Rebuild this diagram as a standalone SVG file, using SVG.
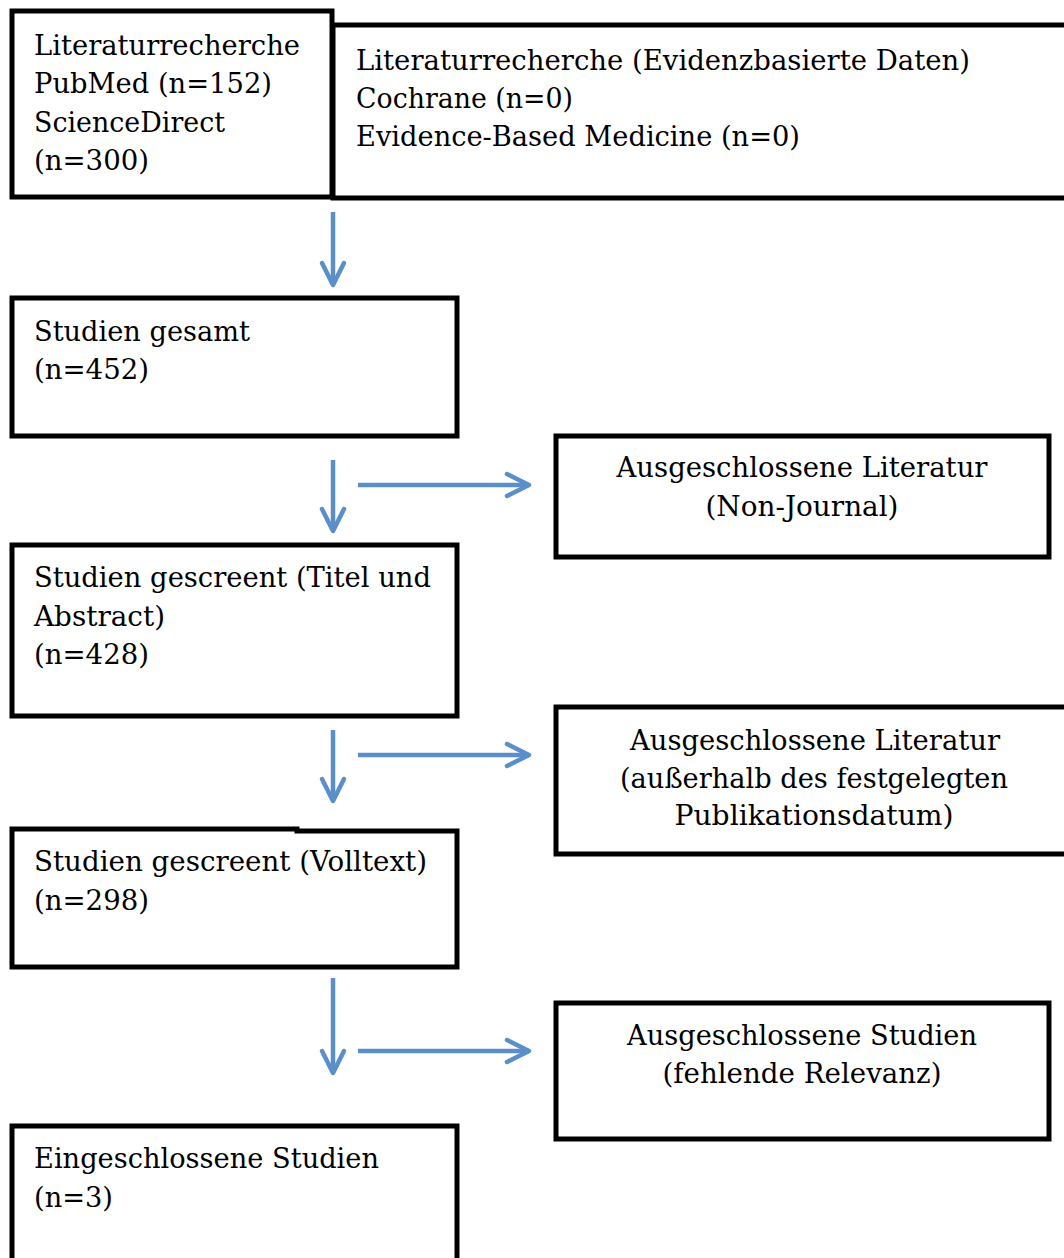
<svg xmlns="http://www.w3.org/2000/svg" width="1064" height="1258" viewBox="0 0 1064 1258">
<style>
.box{fill:#fff;stroke:#000;stroke-width:5}
.t{font-family:"DejaVu Serif","Liberation Serif",serif;font-size:27px;fill:#000}
.c{text-anchor:middle}
.arr{stroke:#5b8fc9;stroke-width:4.5;fill:none;marker-end:url(#ah)}
</style>
<defs>
<marker id="ah" markerUnits="userSpaceOnUse" markerWidth="34" markerHeight="34" refX="26" refY="17" orient="auto">
<polyline points="4,6 26,17 4,28" fill="none" stroke="#5b8fc9" stroke-width="4.5" stroke-linecap="round" stroke-linejoin="round"/>
</marker>
</defs>
<rect width="1064" height="1258" fill="#fff"/>
<g id="n2">
<rect class="box" x="333" y="25" width="740" height="173"/>
<text class="t" x="356" y="70" textLength="614" lengthAdjust="spacingAndGlyphs">Literaturrecherche (Evidenzbasierte Daten)</text>
<text class="t" x="356" y="108" textLength="217" lengthAdjust="spacingAndGlyphs">Cochrane (n=0)</text>
<text class="t" x="356" y="146" textLength="444" lengthAdjust="spacingAndGlyphs">Evidence-Based Medicine (n=0)</text>
</g>
<g id="n1">
<rect class="box" x="12" y="11" width="320" height="186"/>
<text class="t" x="34" y="55" textLength="266" lengthAdjust="spacingAndGlyphs">Literaturrecherche</text>
<text class="t" x="34" y="93" textLength="238" lengthAdjust="spacingAndGlyphs">PubMed (n=152)</text>
<text class="t" x="34" y="132" textLength="191" lengthAdjust="spacingAndGlyphs">ScienceDirect</text>
<text class="t" x="34" y="170" textLength="115" lengthAdjust="spacingAndGlyphs">(n=300)</text>
</g>
<g id="n3">
<rect class="box" x="12" y="298" width="445" height="138"/>
<text class="t" x="34" y="341" textLength="216" lengthAdjust="spacingAndGlyphs">Studien gesamt</text>
<text class="t" x="34" y="379" textLength="115" lengthAdjust="spacingAndGlyphs">(n=452)</text>
</g>
<g id="n4">
<rect class="box" x="556" y="436" width="493" height="121"/>
<text class="t c" x="802" y="477" textLength="371" lengthAdjust="spacingAndGlyphs">Ausgeschlossene Literatur</text>
<text class="t c" x="802" y="516" textLength="193" lengthAdjust="spacingAndGlyphs">(Non-Journal)</text>
</g>
<g id="n5">
<rect class="box" x="12" y="545" width="445" height="171"/>
<text class="t" x="34" y="587" textLength="397" lengthAdjust="spacingAndGlyphs">Studien gescreent (Titel und</text>
<text class="t" x="34" y="626" textLength="131" lengthAdjust="spacingAndGlyphs">Abstract)</text>
<text class="t" x="34" y="664" textLength="115" lengthAdjust="spacingAndGlyphs">(n=428)</text>
</g>
<g id="n6">
<rect class="box" x="556" y="707" width="520" height="147"/>
<text class="t c" x="815" y="750" textLength="370" lengthAdjust="spacingAndGlyphs">Ausgeschlossene Literatur</text>
<text class="t c" x="814" y="788" textLength="388" lengthAdjust="spacingAndGlyphs">(außerhalb des festgelegten</text>
<text class="t c" x="814" y="825" textLength="279" lengthAdjust="spacingAndGlyphs">Publikationsdatum)</text>
</g>
<g id="n7">
<path class="box" d="M12,829 H297 V831 H457 V967 H12 Z"/>
<text class="t" x="34" y="871" textLength="393" lengthAdjust="spacingAndGlyphs">Studien gescreent (Volltext)</text>
<text class="t" x="34" y="910" textLength="115" lengthAdjust="spacingAndGlyphs">(n=298)</text>
</g>
<g id="n8">
<rect class="box" x="556" y="1003" width="493" height="136"/>
<text class="t c" x="802" y="1045" textLength="350" lengthAdjust="spacingAndGlyphs">Ausgeschlossene Studien</text>
<text class="t c" x="802" y="1083" textLength="279" lengthAdjust="spacingAndGlyphs">(fehlende Relevanz)</text>
</g>
<g id="n9">
<rect class="box" x="12" y="1126" width="445" height="150"/>
<text class="t" x="34" y="1168" textLength="345" lengthAdjust="spacingAndGlyphs">Eingeschlossene Studien</text>
<text class="t" x="34" y="1207" textLength="79" lengthAdjust="spacingAndGlyphs">(n=3)</text>
</g>
<g id="connectors">
<line class="arr" x1="333" y1="212" x2="333" y2="285"/>
<line class="arr" x1="333" y1="460" x2="333" y2="531"/>
<line class="arr" x1="358" y1="485" x2="529" y2="485"/>
<line class="arr" x1="333" y1="730" x2="333" y2="801"/>
<line class="arr" x1="358" y1="755" x2="529" y2="755"/>
<line class="arr" x1="333" y1="978" x2="333" y2="1073"/>
<line class="arr" x1="358" y1="1051" x2="529" y2="1051"/>
</g>
</svg>
